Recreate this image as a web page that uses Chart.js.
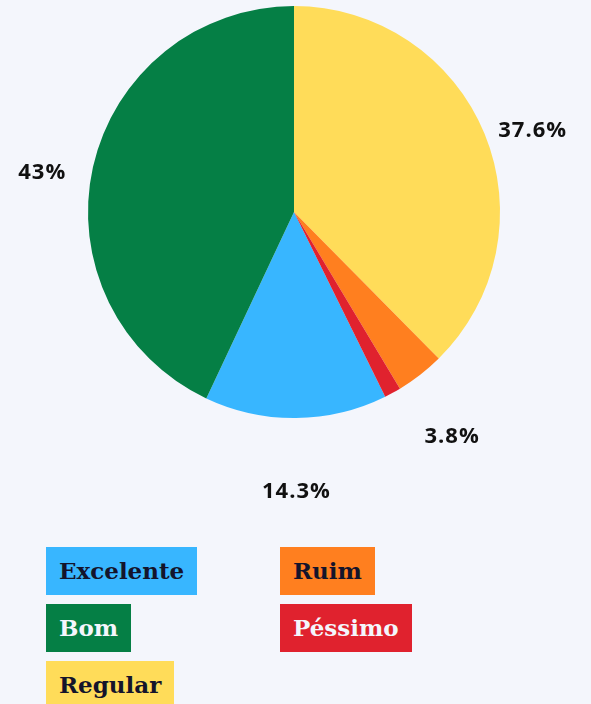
<!DOCTYPE html>
<html>
<head>
<meta charset="utf-8">
<script src="https://cdn.jsdelivr.net/npm/chart.js@4/dist/chart.umd.min.js"></script>
<style>
  html, body { margin: 0; padding: 0; background: #f4f6fc; }
  #wrap { position: relative; width: 591px; height: 704px; overflow: hidden; }
  #chartBox { position: absolute; left: 0; top: 0; width: 591px; height: 520px; }
  #legend {
    position: absolute; left: 46px; top: 547px;
    display: grid; grid-auto-flow: column;
    grid-template-rows: repeat(3, 48px); grid-template-columns: 234px auto;
    row-gap: 9px;
  }
  #legend span {
    justify-self: start; padding: 0 13px; line-height: 48px; height: 48px;
    font-family: "DejaVu Serif", serif; font-weight: bold; font-size: 23px;
  }
</style>
</head>
<body>
<div id="wrap">
  <div id="chartBox"><canvas id="pie"></canvas></div>
  <div id="legend"></div>
</div>
<script>
const categories = ['Excelente', 'Bom', 'Regular', 'Ruim', 'Péssimo']
const values = [14.3, 43, 37.6, 3.8, 1.3]
const valueLabels = ['14.3%', '43%', '37.6%', '3.8%', '']
const colors = ['#38b6ff', '#057f45', '#ffdc59', '#ff7f1f', '#e0222e']
const legendText = ['#14142b', '#f4f6fc', '#14142b', '#14142b', '#f4f6fc']

// labels sit on an ellipse around the pie, at each slice's middle angle
const outsideLabels = {
  id: 'outsideLabels',
  afterDatasetsDraw(chart) {
    const ctx = chart.ctx
    const arcs = chart.getDatasetMeta(0).data
    ctx.save()
    ctx.font = 'bold 22px "Open Sans", sans-serif'
    ctx.letterSpacing = '1px'
    ctx.fillStyle = '#111111'
    ctx.textAlign = 'center'
    ctx.textBaseline = 'middle'
    arcs.forEach((arc, i) => {
      if (!valueLabels[i]) return
      const mid = (arc.startAngle + arc.endAngle) / 2
      const x = arc.x + Math.cos(mid) * (arc.outerRadius + 52)
      const y = arc.y + 18 + Math.sin(mid) * (arc.outerRadius + 56)
      ctx.fillText(valueLabels[i], x, y)
    })
    ctx.restore()
  }
}

const pieChart = new Chart(document.getElementById('pie'), {
  type: 'pie',
  data: {
    labels: categories,
    datasets: [{
      data: values,
      backgroundColor: colors,
      borderWidth: 0
    }]
  },
  options: {
    responsive: true,
    maintainAspectRatio: false,
    animation: false,
    rotation: -(values[0] + values[1]) * 3.6,
    layout: { padding: { left: 88, top: 6, right: 91, bottom: 102 } },
    plugins: {
      legend: { display: false },
      tooltip: { enabled: false }
    }
  },
  plugins: [outsideLabels]
})

const legendBox = document.getElementById('legend')
categories.forEach((name, i) => {
  const item = document.createElement('span')
  item.innerText = name
  item.style.background = colors[i]
  item.style.color = legendText[i]
  legendBox.appendChild(item)
})
</script>
</body>
</html>
